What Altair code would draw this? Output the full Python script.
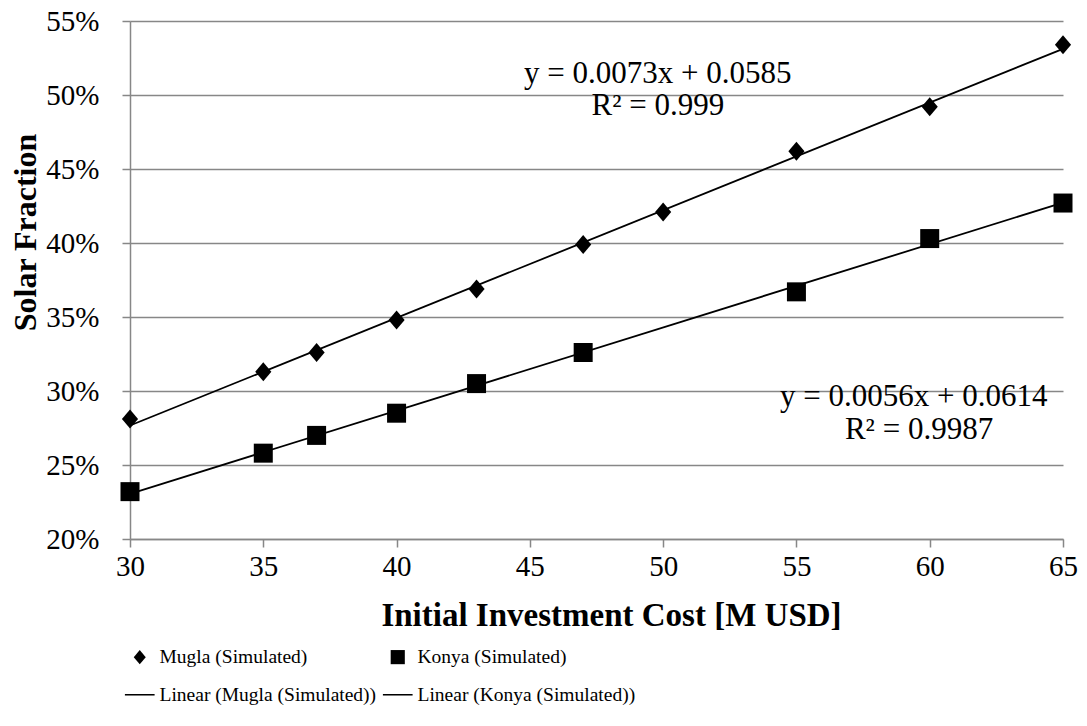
import altair as alt
import pandas as pd

# ---- data ----
cost_mugla = [30, 35, 37, 40, 43, 47, 50, 55, 60, 65]
sf_mugla = [0.281, 0.313, 0.326, 0.348, 0.369, 0.399, 0.421, 0.462, 0.492, 0.534]

cost_konya = [30, 35, 37, 40, 43, 47, 55, 60, 65]
sf_konya = [0.232, 0.258, 0.270, 0.285, 0.305, 0.326, 0.367, 0.403, 0.427]

series_names = [
    "Mugla (Simulated)",
    "Konya (Simulated)",
    "Linear (Mugla (Simulated))",
    "Linear (Konya (Simulated))",
]

eq_labels = ["y = 0.0073x + 0.0585", "R² = 0.999", "y = 0.0056x + 0.0614", "R² = 0.9987"]
eq_x = [49.8, 49.8, 59.4, 59.6]
eq_y = [0.514, 0.4926, 0.296, 0.2736]

x_ticks = [30, 35, 40, 45, 50, 55, 60, 65]
y_ticks = [0.20, 0.25, 0.30, 0.35, 0.40, 0.45, 0.50, 0.55]

# ---- styles ----
FONT = "Liberation Serif"
GRID = "#878787"
shape_paths = [
    "M0,-1L0.85,0L0,1L-0.85,0Z",
    "M-1,-1H1V1H-1Z",
    "M-2.1,-0.11H2.1V0.11H-2.1Z",
    "M-2.1,-0.11H2.1V0.11H-2.1Z",
]

pts = pd.DataFrame(
    {
        "series": [series_names[0]] * len(cost_mugla) + [series_names[1]] * len(cost_konya),
        "cost": cost_mugla + cost_konya,
        "sf": sf_mugla + sf_konya,
    }
)
eqs = pd.DataFrame({"label": eq_labels, "cost": eq_x, "sf": eq_y})

xscale = alt.Scale(domain=[30, 65], nice=False, zero=False)
yscale = alt.Scale(domain=[0.2, 0.55], nice=False, zero=False)

xaxis = alt.Axis(
    values=x_ticks,
    title="Initial Investment Cost [M USD]",
    grid=False,
    domainColor=GRID,
    domainWidth=1.5,
    tickColor=GRID,
    tickWidth=1.5,
    tickSize=8,
    labelFont=FONT,
    labelFontSize=29,
    labelColor="black",
    labelPadding=5,
    labelFlush=False,
    titleFont=FONT,
    titleFontSize=33,
    titleFontWeight="bold",
    titleColor="black",
    titleX=481,
    titleY=86,
    titleAlign="center",
    titleBaseline="alphabetic",
)
yaxis = alt.Axis(
    values=y_ticks,
    format=".0%",
    title="Solar Fraction",
    grid=True,
    gridColor=GRID,
    gridWidth=1.5,
    domainColor=GRID,
    domainWidth=1.5,
    tickColor=GRID,
    tickWidth=1.5,
    tickSize=8,
    labelFont=FONT,
    labelFontSize=29,
    labelColor="black",
    labelPadding=23,
    labelFlush=False,
    titleFont=FONT,
    titleFontSize=32,
    titleFontWeight="bold",
    titleColor="black",
    titleAngle=270,
    titleX=-95,
    titleY=211,
    titleAlign="center",
    titleBaseline="alphabetic",
)

legend = alt.Legend(
    title=None,
    orient="none",
    direction="horizontal",
    legendX=0,
    legendY=626,
    columns=2,
    columnPadding=5,
    rowPadding=17,
    labelFont=FONT,
    labelFontSize=19.5,
    labelColor="black",
    labelLimit=0,
    labelOffset=10,
    symbolSize=200,
    symbolFillColor="black",
    symbolStrokeWidth=0,
)

trend = (
    alt.Chart(pts)
    .transform_regression("cost", "sf", groupby=["series"], extent=[30, 65])
    .mark_line(color="black", strokeWidth=1.8)
    .encode(
        x=alt.X("cost:Q", scale=xscale, axis=xaxis),
        y=alt.Y("sf:Q", scale=yscale, axis=yaxis),
        detail="series:N",
    )
)

points = (
    alt.Chart(pts)
    .mark_point(filled=True, size=361, color="black", opacity=1)
    .encode(
        x=alt.X("cost:Q", scale=xscale),
        y=alt.Y("sf:Q", scale=yscale),
        shape=alt.Shape(
            "series:N",
            scale=alt.Scale(domain=series_names, range=shape_paths),
            legend=legend,
        ),
    )
)

texts = (
    alt.Chart(eqs)
    .mark_text(font=FONT, fontSize=31, color="black", align="center", baseline="middle")
    .encode(x=alt.X("cost:Q", scale=xscale), y=alt.Y("sf:Q", scale=yscale), text="label:N")
)

chart = (
    alt.layer(trend, points, texts)
    .properties(
        width=933,
        height=518,
        autosize=alt.AutoSizeParams(type="none"),
        padding={"left": 130, "top": 21, "right": 24, "bottom": 187},
        background="white",
    )
    .configure(font=FONT)
    .configure_axis(labelFont=FONT, titleFont=FONT)
    .configure_legend(labelFont=FONT)
    .configure_view(stroke=None)
)

chart.save("out.html", embed_options={"renderer": "svg", "actions": False})
